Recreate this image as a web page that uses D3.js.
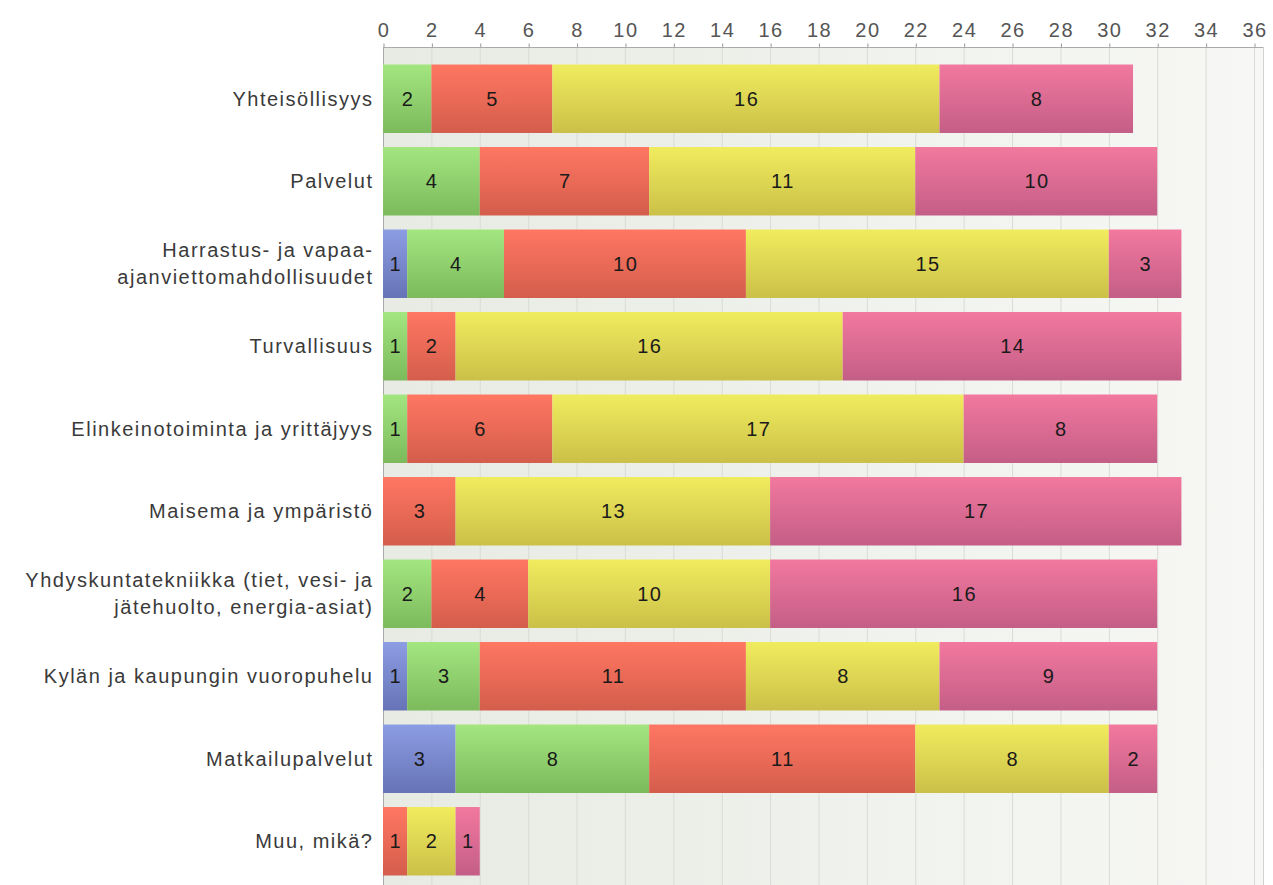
<!DOCTYPE html>
<html><head><meta charset="utf-8">
<script src="https://cdn.jsdelivr.net/npm/d3@7"></script>
<style>body{margin:0;background:#fff;}svg{display:block;} text{font-family:"Liberation Sans",Arial,sans-serif;}</style>
</head><body>
<svg id="chart" width="1273" height="885"></svg>
<script>
const categories = [
  ["Yhteisöllisyys"],
  ["Palvelut"],
  ["Harrastus- ja vapaa-", "ajanviettomahdollisuudet"],
  ["Turvallisuus"],
  ["Elinkeinotoiminta ja yrittäjyys"],
  ["Maisema ja ympäristö"],
  ["Yhdyskuntatekniikka (tiet, vesi- ja", "jätehuolto, energia-asiat)"],
  ["Kylän ja kaupungin vuoropuhelu"],
  ["Matkailupalvelut"],
  ["Muu, mikä?"]
];
const seriesBlue   = [0, 0, 1, 0, 0, 0, 0, 1, 3, 0];
const seriesGreen  = [2, 4, 4, 1, 1, 0, 2, 3, 8, 0];
const seriesRed    = [5, 7, 10, 2, 6, 3, 4, 11, 11, 1];
const seriesYellow = [16, 11, 15, 16, 17, 13, 10, 8, 8, 2];
const seriesPink   = [8, 10, 3, 14, 8, 17, 16, 9, 2, 1];
const tickValues = [0,2,4,6,8,10,12,14,16,18,20,22,24,26,28,30,32,34,36];

const seriesList = [
  {key:"blue", values: seriesBlue, top:"#8d9de3", bot:"#6673b6"},
  {key:"green", values: seriesGreen, top:"#a3e680", bot:"#7cba5c"},
  {key:"red", values: seriesRed, top:"#ff7762", bot:"#d45d4c"},
  {key:"yellow", values: seriesYellow, top:"#f0ec5e", bot:"#cbc048"},
  {key:"pink", values: seriesPink, top:"#f2789f", bot:"#c45e86"}
];

const FS = 20, LS = 1.5;
const svg = d3.select("#chart");
const pL = 383, pR = 1263, pT = 47, pB = 885;
const x = d3.scaleLinear().domain([0,36]).range([383, 1254]);
const y = d3.scaleBand().domain(d3.range(categories.length)).range([57.5, 882.5]).paddingInner(0.17).paddingOuter(0.085);

const defs = svg.append("defs");
const bg = defs.append("linearGradient").attr("id","bg").attr("x1","0").attr("x2","1").attr("y1","0").attr("y2","0");
bg.append("stop").attr("offset","0").attr("stop-color","#e7ebe3");
bg.append("stop").attr("offset","1").attr("stop-color","#f7f8f5");
seriesList.forEach(s=>{
  const g = defs.append("linearGradient").attr("id","g-"+s.key).attr("x1","0").attr("x2","0").attr("y1","0").attr("y2","1");
  g.append("stop").attr("offset","0").attr("stop-color",s.top);
  g.append("stop").attr("offset","1").attr("stop-color",s.bot);
});

svg.append("rect").attr("x",pL).attr("y",pT).attr("width",pR-pL).attr("height",pB-pT).attr("fill","url(#bg)");

// grid
svg.append("g").selectAll("line").data(tickValues.slice(1)).join("line")
  .attr("x1",d=>x(d)+0.5).attr("x2",d=>x(d)+0.5).attr("y1",pT).attr("y2",pB)
  .attr("stroke","#d9dcd6").attr("stroke-width",1);
svg.append("line").attr("x1",pR+0.5).attr("x2",pR+0.5).attr("y1",pT).attr("y2",pB).attr("stroke","#d0d3cd");

// axis
const axis = d3.axisTop(x).tickValues(tickValues).tickSize(4).tickPadding(7).tickSizeOuter(0);
const ag = svg.append("g").attr("transform",`translate(0.5,${pT+0.5})`).call(axis);
ag.select(".domain").remove();
ag.selectAll(".tick line").attr("stroke","#999");
ag.selectAll(".tick text").attr("font-family","Liberation Sans").attr("font-size",FS).attr("letter-spacing",LS).attr("fill","#555");
svg.append("line").attr("x1",pL).attr("x2",pR).attr("y1",pT+0.5).attr("y2",pT+0.5).attr("stroke","#aaa");
svg.append("line").attr("x1",pL+0.5).attr("x2",pL+0.5).attr("y1",pT).attr("y2",pB).attr("stroke","#aaa");

// stacks
const data = categories.map((c,i)=>{const o={i}; seriesList.forEach(s=>o[s.key]=s.values[i]); return o;});
const stack = d3.stack().keys(seriesList.map(s=>s.key))(data);
const bars = svg.append("g");
stack.forEach((layer,li)=>{
  const s = seriesList[li];
  layer.forEach((d,i)=>{
    const v = d[1]-d[0];
    if(v<=0) return;
    bars.append("rect").attr("x",x(d[0])).attr("y",y(i)).attr("width",x(d[1])-x(d[0])).attr("height",y.bandwidth())
      .attr("fill",`url(#g-${s.key})`);
    bars.append("text").attr("x",(x(d[0])+x(d[1]))/2 + LS/2).attr("y",y(i)+y.bandwidth()/2).attr("dy","0.36em")
      .attr("text-anchor","middle").attr("font-size",FS).attr("letter-spacing",LS).attr("fill","#1a1a1a").text(v);
  });
});

// category labels
const lg = svg.append("g");
categories.forEach((lines,i)=>{
  const cy = y(i)+y.bandwidth()/2;
  const lh = 27;
  lines.forEach((t,j)=>{
    lg.append("text").attr("x",372+LS).attr("y",cy + (j-(lines.length-1)/2)*lh).attr("dy","0.36em")
      .attr("text-anchor","end").attr("font-size",FS).attr("letter-spacing",LS).attr("fill","#3a3a3a").text(t);
  });
});
</script>
</body></html>
